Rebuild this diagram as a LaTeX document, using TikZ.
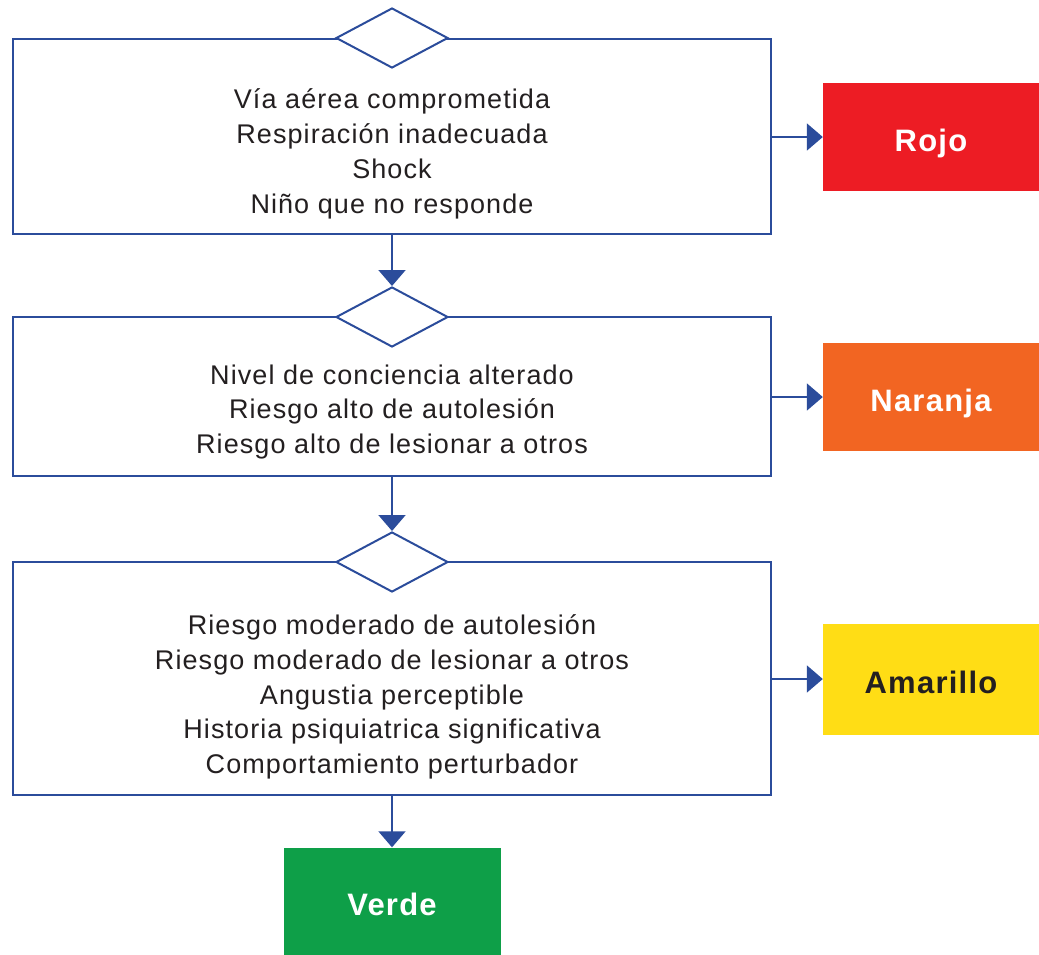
\documentclass[tikz,border=0pt]{standalone}
\usepackage{fontspec}
\setmainfont{Liberation Sans}[LetterSpace=4]
\usetikzlibrary{arrows.meta,shapes.geometric}
\definecolor{lineblue}{HTML}{2B4C9B}
\definecolor{rojo}{HTML}{ED1C24}
\definecolor{naranja}{HTML}{F26522}
\definecolor{amarillo}{HTML}{FFDD15}
\definecolor{verde}{HTML}{0E9F48}
\definecolor{txt}{HTML}{231F20}
\tikzset{
  x=1pt, y=-1pt,
  panel/.style={draw=lineblue, line width=2pt, fill=white},
  gate/.style={diamond, draw=lineblue, line width=2pt, fill=white, inner sep=0pt, minimum width=112pt, minimum height=60pt},
  body/.style={align=center, text=txt, font=\fontsize{27}{34.8}\selectfont, inner sep=0pt},
  level/.style={minimum width=216pt, minimum height=108pt, inner sep=0pt, text height=28pt, text depth=0pt, font=\fontsize{31}{36}\selectfont\bfseries, text=white},
  conn/.style={draw=lineblue, line width=2pt, -{Triangle[length=16pt,width=27pt]}}
}
\begin{document}
\begin{tikzpicture}
\useasboundingbox (0,0) rectangle (1039,954);
% panels
\draw[panel] (13,39) rectangle (771,234);
\draw[panel] (13,317) rectangle (771,476);
\draw[panel] (13,562) rectangle (771,795);
\coordinate (p1r) at (771,137);
\coordinate (p1b) at (392,234);
\coordinate (p2r) at (771,397);
\coordinate (p2b) at (392,476);
\coordinate (p3r) at (771,679);
\coordinate (p3b) at (392,795);
% gates
\node[gate] (g1) at (392,38) {};
\node[gate] (g2) at (392,317) {};
\node[gate] (g3) at (392,562) {};
% texts
\node[body] (t1) at (392,154) {Vía aérea comprometida\\Respiración inadecuada\\Shock\\Niño que no responde};
\node[body] (t2) at (392,412) {Nivel de conciencia alterado\\Riesgo alto de autolesión\\Riesgo alto de lesionar a otros};
\node[body] (t3) at (392,697) {Riesgo moderado de autolesión\\Riesgo moderado de lesionar a otros\\Angustia perceptible\\Historia psiquiatrica significativa\\Comportamiento perturbador};
% levels
\node[level, fill=rojo] (rojo) at (931,137) {Rojo};
\node[level, fill=naranja] (naranja) at (931,397) {Naranja};
\node[level, fill=amarillo, text=txt, minimum height=111pt] (amarillo) at (931,679) {Amarillo};
\node[level, fill=verde, minimum width=217pt, minimum height=107pt] (verde) at (392,901) {Verde};
% connectors
\draw[conn] (p1r) -- (rojo.west);
\draw[conn] (p2r) -- (naranja.west);
\draw[conn] (p3r) -- (amarillo.west);
\draw[conn] (p1b) -- (g2.north);
\draw[conn] (p2b) -- (g3.north);
\draw[conn] (p3b) -- (verde.north);
\end{tikzpicture}
\end{document}
